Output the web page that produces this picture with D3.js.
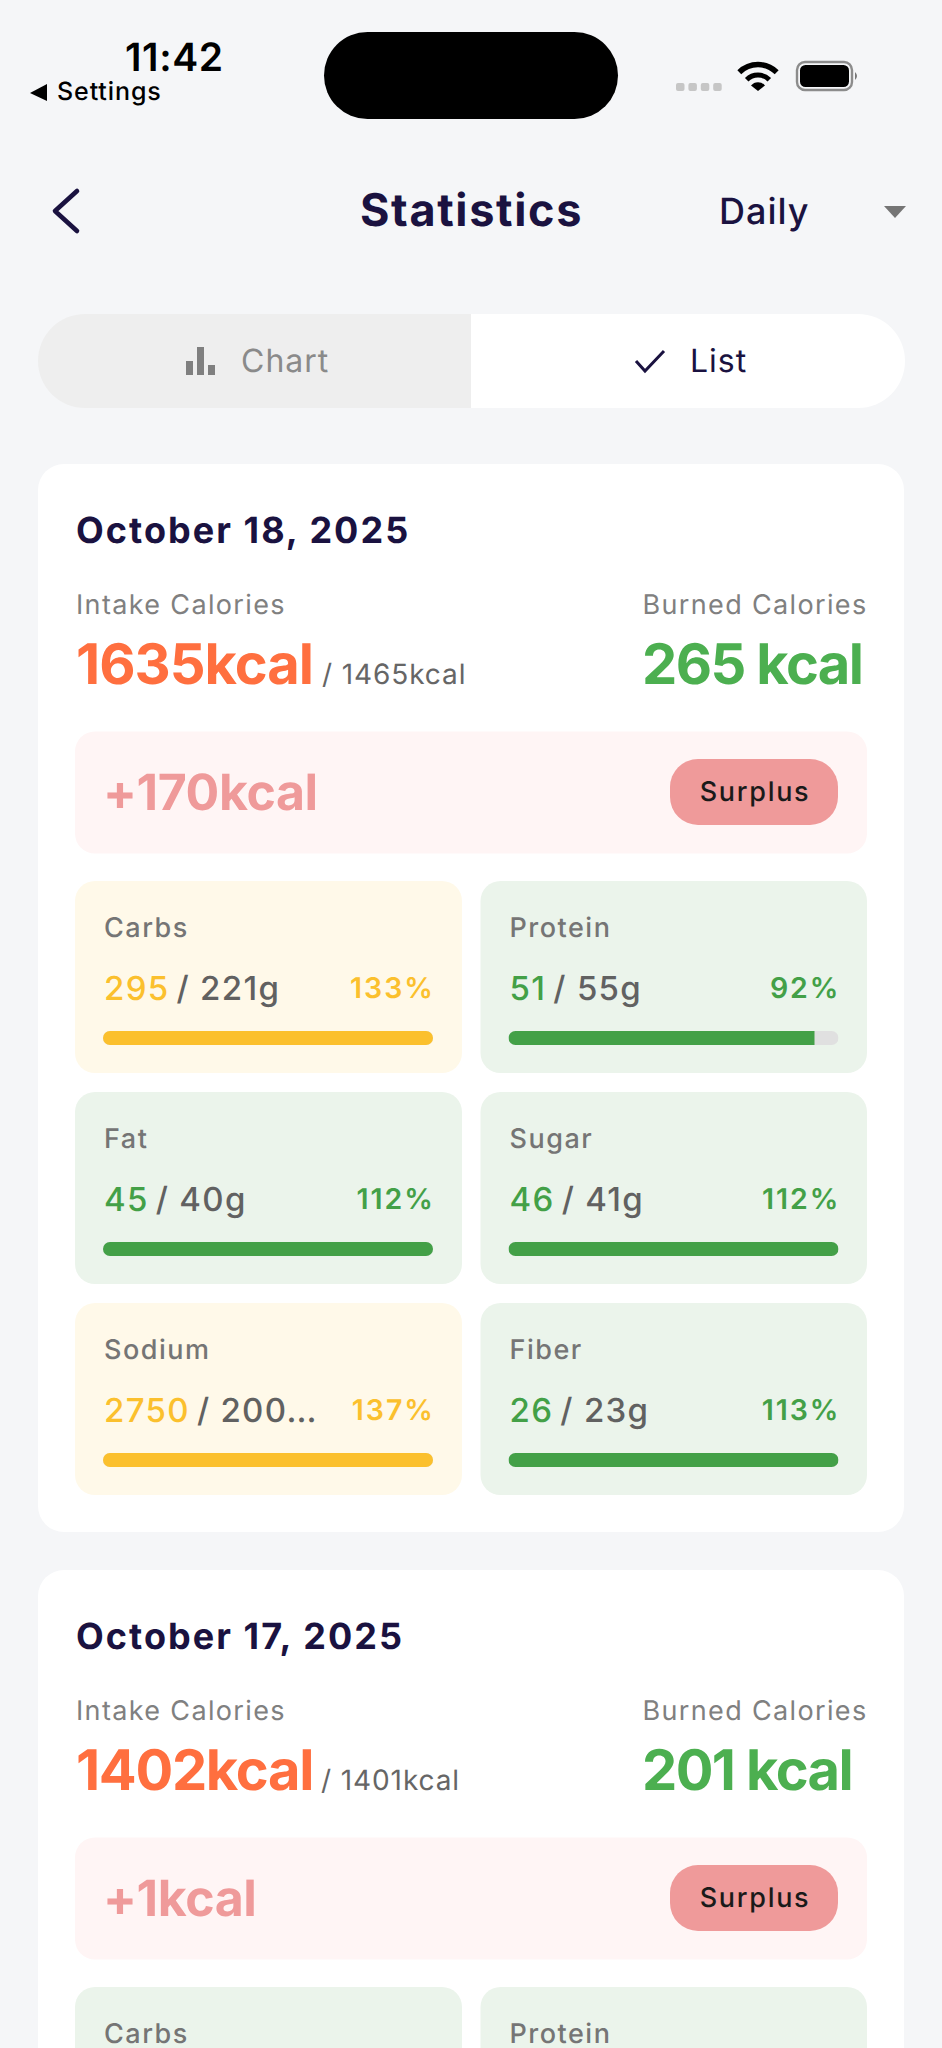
<!DOCTYPE html>
<html>
<head>
<meta charset="utf-8">
<script src="https://cdnjs.cloudflare.com/ajax/libs/d3/7.9.0/d3.min.js"></script>
<style>
html,body{margin:0;padding:0;background:#f5f6f8;}
svg{display:block;}
text{font-family:Inter,"Noto Sans",sans-serif;text-rendering:geometricPrecision;}
</style>
</head>
<body>
<svg id="chart" width="942" height="2048"></svg>
<script>
// ---- data ----
const dates = ["October 18, 2025", "October 17, 2025"];
const intake = [1635, 1402];
const intakeGoal = [1465, 1401];
const burned = [265, 201];
const balance = ["+170kcal", "+1kcal"];
const balanceTag = ["Surplus", "Surplus"];
const nutrients = ["Carbs", "Protein", "Fat", "Sugar", "Sodium", "Fiber"];
const eaten = [295, 51, 45, 46, 2750, 26];
const goals = [221, 55, 40, 41, 2000, 23];
const goalLabels = ["221g", "55g", "40g", "41g", "200…", "23g"];
const percents = [133, 92, 112, 112, 137, 113];
const warnFlags = [true, false, false, false, true, false];
const nextDayNutrients = ["Carbs", "Protein"];

const INK = "#1a1240", GREY = "#808080", ORANGE = "#ff6f3f", GREEN = "#4caf50",
      DGREEN = "#43a047", YELLOW = "#fbc02d", PINK = "#ef9a9a";

const svg = d3.select("#chart");
const defs = svg.append("defs");
svg.append("rect").attr("width", 942).attr("height", 2048).attr("fill", "#f5f6f8");

function label(g, x, y, str, o = {}) {
  return g.append("text").attr("x", x).attr("y", y).text(str)
    .attr("font-size", o.size || 28).attr("font-weight", o.weight || 400)
    .attr("fill", o.fill || "#000").attr("text-anchor", o.anchor || "start")
    .attr("letter-spacing", o.ls == null ? 0 : o.ls);
}

// ---- status bar ----
const status = svg.append("g");
label(status, 125, 71, "11:42", {size: 39, weight: 600, ls: 0.6});
status.append("path").attr("d", "M30 93 L47 84 L47 101 Z").attr("fill", "#000");
label(status, 57, 100, "Settings", {size: 25, weight: 500, ls: 0.9});
status.append("rect").attr("x", 324).attr("y", 32).attr("width", 294).attr("height", 87).attr("rx", 43.5).attr("fill", "#000");
status.selectAll("rect.sig").data(d3.range(4)).join("rect").attr("class", "sig")
  .attr("x", i => 676 + i * 12.4).attr("y", 83).attr("width", 8.5).attr("height", 8).attr("rx", 2).attr("fill", "#c6c6c6");
const wifi = status.append("g").attr("transform", "translate(758,91)").attr("fill", "none").attr("stroke", "#000");
wifi.append("path").attr("stroke-width", 5.5).attr("d", "M-18.7 -18.7 A26.5 26.5 0 0 1 18.7 -18.7");
wifi.append("path").attr("stroke-width", 5).attr("d", "M-11.3 -11.3 A16 16 0 0 1 11.3 -11.3");
wifi.append("path").attr("d", "M-7 -5.5 A9 9 0 0 1 7 -5.5 L0 0 Z").attr("fill", "#000").attr("stroke", "none");
status.append("rect").attr("x", 797).attr("y", 62).attr("width", 55).attr("height", 28).attr("rx", 8).attr("fill", "none").attr("stroke", "#8c8c8c").attr("stroke-width", 2.4);
status.append("rect").attr("x", 800).attr("y", 65).attr("width", 49).attr("height", 22).attr("rx", 5.5).attr("fill", "#000");
status.append("path").attr("d", "M855 72 Q859 76 855 80 Z").attr("fill", "#777");

// ---- header ----
const head = svg.append("g");
head.append("path").attr("d", "M77 191 L55 211 L77 231").attr("fill", "none").attr("stroke", INK).attr("stroke-width", 4.6).attr("stroke-linecap", "round").attr("stroke-linejoin", "round");
label(head, 360, 226, "Statistics", {size: 45, weight: 700, fill: INK, ls: 1.65});
label(head, 719, 224, "Daily", {size: 36, weight: 500, fill: INK, ls: 1});
head.append("path").attr("d", "M884 206 L906 206 L895 218 Z").attr("fill", "#757575");

// ---- toggle ----
const toggle = svg.append("g");
defs.append("clipPath").attr("id", "pill").append("rect").attr("x", 38).attr("y", 314).attr("width", 867).attr("height", 94).attr("rx", 47);
const tg = toggle.append("g").attr("clip-path", "url(#pill)");
tg.append("rect").attr("x", 38).attr("y", 314).attr("width", 433).attr("height", 94).attr("fill", "#eeeeee");
tg.append("rect").attr("x", 471).attr("y", 314).attr("width", 434).attr("height", 94).attr("fill", "#ffffff");
toggle.append("path").attr("d", "M186 361h7v14h-7zM197 347h7v28h-7zM208 365h7v10h-7z").attr("fill", "#7f7f7f");
label(toggle, 241, 372, "Chart", {size: 32, weight: 400, fill: "#8a8a8a", ls: 1});
toggle.append("path").attr("d", "M636 361 L645 371 L664 351").attr("fill", "none").attr("stroke", INK).attr("stroke-width", 3);
label(toggle, 690, 372, "List", {size: 32, weight: 400, fill: INK, ls: 1});

// ---- day cards ----
const cardOffset = 1106;
const cellX = [75, 480.5];
const cellY = [881, 1092, 1303];
const barScale = d3.scaleLinear().domain([0, 1]).range([0, 330]).clamp(true);

defs.append("clipPath").attr("id", "track").append("rect").attr("width", 330).attr("height", 14).attr("rx", 7);

dates.forEach((date, c) => {
  const g = svg.append("g").attr("transform", `translate(0,${c * cardOffset})`);
  g.append("rect").attr("x", 38).attr("y", 464).attr("width", 866).attr("height", 1068).attr("rx", 26).attr("fill", "#fff");
  label(g, 76, 543, date, {size: 36, weight: 700, fill: INK, ls: 2.05});
  label(g, 76, 614, "Intake Calories", {size: 27, weight: 400, fill: GREY, ls: 1.35});
  label(g, 867.5, 614, "Burned Calories", {size: 27, weight: 400, fill: GREY, ls: 1.35, anchor: "end"});
  label(g, 76, 684, intake[c] + "kcal", {size: 56, weight: 700, fill: ORANGE, ls: c ? -1.3 : -1});
  label(g, 322 - c, 684, "/ " + intakeGoal[c] + "kcal", {size: 28, weight: 400, fill: "#666", ls: 0.9});
  label(g, 642, 684, burned[c] + " kcal", {size: 56, weight: 700, fill: GREEN, ls: -1.6});
  g.append("rect").attr("x", 75).attr("y", 731.5).attr("width", 792).attr("height", 122).attr("rx", 20).attr("fill", "#fff5f5");
  label(g, 103, 810, balance[c], {size: 50, weight: 700, fill: PINK, ls: -0.4});
  g.append("rect").attr("x", 670).attr("y", 759).attr("width", 168).attr("height", 66).attr("rx", 28).attr("fill", PINK);
  label(g, 755, 801, balanceTag[c], {size: 27, weight: 500, fill: "#1a1a1a", ls: 1.7, anchor: "middle"});

  if (c === 0) {
    const cell = g.selectAll("g.cell").data(nutrients.map((name, i) => ({
      name, i, v: eaten[i], goal: goalLabels[i], ratio: eaten[i] / goals[i], pct: percents[i], warn: warnFlags[i]
    }))).join("g").attr("class", "cell")
      .attr("transform", d => `translate(${cellX[d.i % 2]},${cellY[Math.floor(d.i / 2)]})`);
    cell.append("rect").attr("width", d => d.i % 2 ? 386.5 : 387).attr("height", 192).attr("rx", 20)
      .attr("fill", d => d.warn ? "#fff9e9" : "#ebf4eb");
    cell.append("text").attr("x", 29).attr("y", 56).text(d => d.name)
      .attr("font-size", 27).attr("font-weight", 500).attr("fill", "#757575").attr("letter-spacing", 1.5);
    const val = cell.append("text").attr("x", 29).attr("y", 119).attr("font-size", 33).attr("font-weight", 500).attr("letter-spacing", 1.3);
    val.append("tspan").text(d => d.v).attr("fill", d => d.warn ? YELLOW : DGREEN);
    val.append("tspan").text(d => " / " + d.goal).attr("dx", -3).attr("fill", "#616161");
    cell.append("text").attr("x", 360).attr("y", 117).attr("text-anchor", "end").text(d => d.pct + "%")
      .attr("font-size", 28.5).attr("font-weight", 600).attr("letter-spacing", 2)
      .attr("fill", d => d.warn ? YELLOW : DGREEN);
    const bar = cell.append("g").attr("transform", "translate(28,150)").attr("clip-path", "url(#track)");
    bar.append("rect").attr("width", barScale(1)).attr("height", 14).attr("fill", "#e0e0e0");
    bar.append("rect").attr("width", d => barScale(d.ratio)).attr("height", 14).attr("fill", d => d.warn ? YELLOW : DGREEN);
  } else {
    const cell = g.selectAll("g.cell").data(nextDayNutrients.map((name, i) => ({name, i}))).join("g").attr("class", "cell")
      .attr("transform", d => `translate(${cellX[d.i]},${cellY[0]})`);
    cell.append("rect").attr("width", d => d.i ? 386.5 : 387).attr("height", 192).attr("rx", 20).attr("fill", "#ebf4eb");
    cell.append("text").attr("x", 29).attr("y", 56).text(d => d.name)
      .attr("font-size", 27).attr("font-weight", 500).attr("fill", "#757575").attr("letter-spacing", 1.5);
  }
});
</script>
</body>
</html>
